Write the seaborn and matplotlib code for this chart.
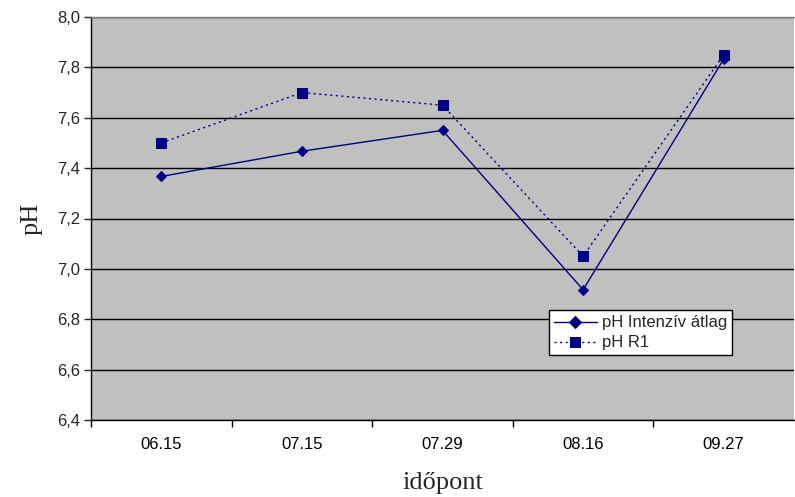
import matplotlib
matplotlib.use("Agg")
import matplotlib.pyplot as plt
import seaborn as sns
import pandas as pd
import numpy as np
from matplotlib.ticker import FixedLocator, FuncFormatter

dates = ["06.15", "07.15", "07.29", "08.16", "09.27"]
ph_intenziv = [7.367, 7.467, 7.55, 6.917, 7.833]
ph_r1 = [7.50, 7.70, 7.65, 7.05, 7.85]
series_names = ["pH Intenzív átlag", "pH R1"]

df = pd.DataFrame({
    "időpont": dates * 2,
    "pH": ph_intenziv + ph_r1,
    "series": [series_names[0]] * len(dates) + [series_names[1]] * len(dates),
})

sns.set_style("white")
plt.rcParams["font.family"] = ["Liberation Sans", "DejaVu Sans"]

fig = plt.figure(figsize=(7.95, 4.97), dpi=100)
ax = fig.add_axes([91 / 795, 77 / 497, 703 / 795, 403 / 497])
ax.set_facecolor("#C0C0C0")

navy = "#000080"
sns.lineplot(data=df, x="időpont", y="pH", hue="series", style="series",
             palette=[navy, navy], markers=["D", "s"],
             dashes=[(None, None), (1.5, 2.5)], sort=False, ax=ax,
             linewidth=1.0, markersize=6.5, markeredgecolor=navy, zorder=3)
lines = ax.get_lines()
lines[0].set_markersize(5.5)
lines[1].set_markersize(7)

ax.set_xlim(-0.5, len(dates) - 0.5)
ax.set_ylim(6.4, 8.0)
yt = np.round(np.arange(6.4, 8.01, 0.2), 1)
ax.set_yticks(yt)
ax.yaxis.set_major_formatter(FuncFormatter(lambda v, p: f"{v:.1f}".replace(".", ",")))
ax.yaxis.grid(True, color="black", linewidth=1.0, zorder=1)
ax.set_axisbelow(True)

ax.set_xticks(range(len(dates)))
ax.set_xticklabels(dates)
ax.xaxis.set_minor_locator(FixedLocator(np.arange(-0.5, len(dates) - 1, 1.0)))
ax.tick_params(axis="x", which="major", length=0, pad=12, labelsize=12, colors="black")
ax.tick_params(axis="x", which="minor", length=5, direction="out", width=1, color="black", bottom=True)
ax.tick_params(axis="y", which="major", length=5, direction="out", width=1, labelsize=12, pad=3, left=True)

for s in ["left", "bottom"]:
    ax.spines[s].set_color("black")
    ax.spines[s].set_linewidth(1.0)
ax.spines["top"].set_color("#808080")
ax.spines["top"].set_linewidth(1.0)
ax.spines["right"].set_visible(False)

ax.set_xlabel("időpont", family=["Liberation Serif", "DejaVu Serif"], fontsize=19, labelpad=15)
ax.set_ylabel("pH", family=["Liberation Serif", "DejaVu Serif"], fontsize=19, labelpad=10)

handles, labels = ax.get_legend_handles_labels()
leg = ax.legend(handles, labels, loc="upper left", bbox_to_anchor=(0.651, 0.272),
                frameon=True, fancybox=False, framealpha=1, facecolor="white",
                edgecolor="black", fontsize=12, borderpad=0.3, labelspacing=0.3,
                handlelength=2.6, handletextpad=0.3, borderaxespad=0)
leg.get_frame().set_linewidth(1.0)

fig.savefig("out.png", dpi=100)
